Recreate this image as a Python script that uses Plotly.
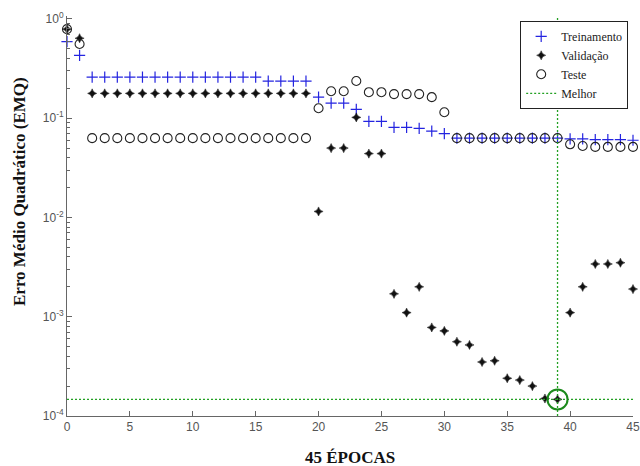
import plotly.graph_objects as go

epochs = list(range(0, 46))

treinamento = [0.59, 0.43] + [0.26] * 14 + [0.236] * 4 + [
    0.163, 0.142, 0.142, 0.123, 0.093, 0.093, 0.081, 0.081, 0.079, 0.074, 0.070,
    0.063, 0.063, 0.063, 0.063, 0.063, 0.063, 0.063, 0.063, 0.063,
    0.062, 0.062, 0.061, 0.061, 0.061, 0.060]

validacao = [0.79, 0.64] + [0.178] * 18 + [
    0.0115, 0.050, 0.050, 0.102, 0.044, 0.044,
    0.0017, 0.0011, 0.0020, 0.00078, 0.00072, 0.00056, 0.00052, 0.00035, 0.00036,
    0.00024, 0.00023, 0.00020, 0.000150, 0.000147,
    0.0011, 0.0020, 0.0034, 0.0034, 0.0035, 0.0019]

teste = [0.79, 0.56] + [0.063] * 18 + [
    0.126, 0.187, 0.187, 0.237, 0.183, 0.183, 0.175, 0.175, 0.175, 0.163, 0.115,
    0.063, 0.063, 0.063, 0.063, 0.063, 0.063, 0.063, 0.063, 0.063,
    0.0546, 0.0525, 0.0514, 0.0514, 0.0514, 0.0514]

x_ticks = [0, 5, 10, 15, 20, 25, 30, 35, 40, 45]
y_tickvals = [1e-4, 1e-3, 1e-2, 1e-1, 1]
y_ticktext = ["10<sup>-4</sup>", "10<sup>-3</sup>", "10<sup>-2</sup>", "10<sup>-1</sup>", "10<sup>0</sup>"]

best_epoch = 39
best_val = validacao[best_epoch]
x_min, x_max = 0, 45
y_min, y_max = 1e-4, 1.07

green = "#22a022"
serif = "Liberation Serif, Times New Roman, serif"
sans = "Liberation Sans, Arial, sans-serif"

fig = go.Figure()
fig.add_trace(go.Scatter(x=epochs, y=treinamento, mode="markers", name="Treinamento",
                         marker=dict(symbol="cross-thin", size=8, color="#2424e0",
                                     line=dict(width=1.2, color="#2424e0")), cliponaxis=False))
fig.add_trace(go.Scatter(x=epochs, y=validacao, mode="markers", name="Validação",
                         marker=dict(symbol="star-diamond", size=6.5, color="#111111",
                                     line=dict(width=0.5, color="#111111")), cliponaxis=False))
fig.add_trace(go.Scatter(x=epochs, y=teste, mode="markers", name="Teste",
                         marker=dict(symbol="circle-open", size=9, color="#222222",
                                     line=dict(width=1.1, color="#222222")), cliponaxis=False))
fig.add_trace(go.Scatter(x=[x_min, x_max, None, best_epoch, best_epoch],
                         y=[best_val, best_val, None, y_min, y_max],
                         mode="lines", name="Melhor",
                         line=dict(color=green, width=1.3, dash="2px,2px")))
fig.add_trace(go.Scatter(x=[best_epoch], y=[best_val], mode="markers", showlegend=False,
                         marker=dict(symbol="circle-open", size=20, color="#1c8a1c",
                                     line=dict(width=2, color="#1c8a1c")), cliponaxis=False))

minor_vals = [k * 10 ** d for d in range(-4, 0) for k in range(2, 10)]

fig.update_layout(
    width=640, height=466,
    margin=dict(l=67, r=7, t=16, b=50, autoexpand=False),
    paper_bgcolor="white", plot_bgcolor="white",
    showlegend=True,
    legend=dict(x=0.9915, y=0.988, xanchor="right", yanchor="top",
                bgcolor="white", bordercolor="#222222", borderwidth=1,
                font=dict(family=serif, size=12, color="#222222"),
                itemwidth=30, tracegroupgap=0),
    annotations=[
        dict(text="<b>45 ÉPOCAS</b>", xref="paper", yref="paper", x=0.5, y=0,
             yshift=-30, xanchor="center", yanchor="top", showarrow=False,
             font=dict(family=serif, size=17, color="#111111")),
        dict(text="<b>Erro Médio Quadrático (EMQ)</b>", xref="paper", yref="paper",
             x=0, xshift=-47, y=0.56, textangle=-90, xanchor="center", yanchor="middle",
             showarrow=False, font=dict(family=serif, size=17, color="#111111")),
    ],
)
fig.update_xaxes(range=[x_min, x_max], tickvals=x_ticks, ticks="inside", ticklen=5,
                 tickcolor="#666666", showline=True, linecolor="#666666", linewidth=1,
                 showgrid=False, zeroline=False, automargin=False,
                 tickfont=dict(family=sans, size=12, color="#555555"))
fig.update_yaxes(type="log", range=[-4, 0.03], tickvals=y_tickvals, ticktext=y_ticktext,
                 ticks="inside", ticklen=5, tickcolor="#666666", showline=True,
                 linecolor="#666666", linewidth=1, showgrid=False, zeroline=False,
                 automargin=False,
                 tickfont=dict(family=sans, size=12, color="#555555"),
                 minor=dict(tickvals=minor_vals, ticks="inside", ticklen=3, tickcolor="#666666"))

page_css = ("document.body.style.margin='0';"
            "document.body.style.overflow='hidden';"
            "document.documentElement.style.overflow='hidden';")

fig.write_html("out.html", post_script=page_css, config={"displayModeBar": False})
